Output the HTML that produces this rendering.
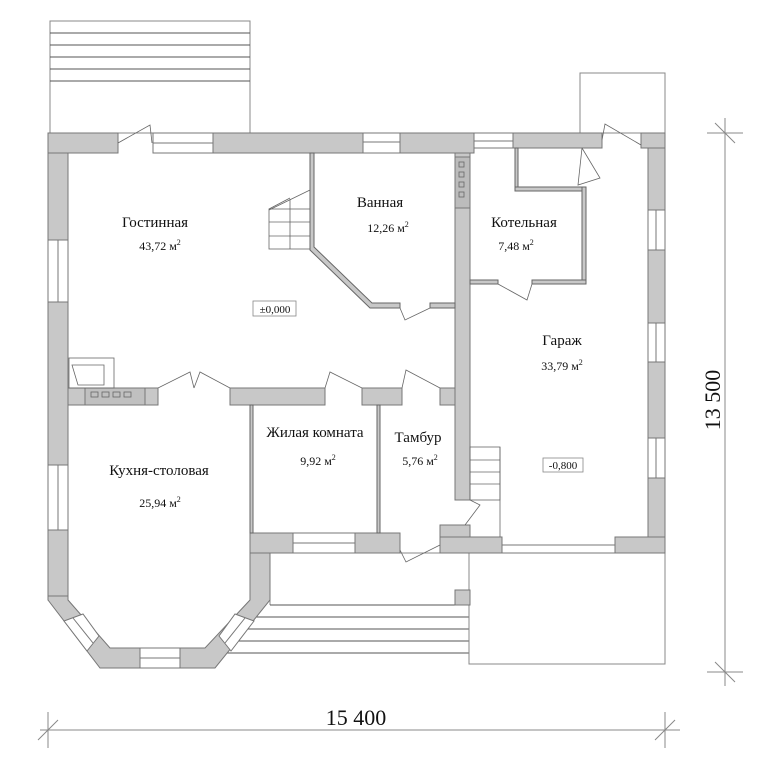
<!DOCTYPE html>
<html><head><meta charset="utf-8"><style>
html,body{margin:0;padding:0;background:#fff;}
svg{display:block}
</style></head><body>
<svg width="762" height="768" viewBox="0 0 762 768" xmlns="http://www.w3.org/2000/svg">
<g fill="none" stroke="#888" stroke-width="1">
<rect x="50" y="21" width="200" height="112"/>
<line x1="50" y1="33" x2="250" y2="33" stroke="#555"/>
<line x1="50" y1="45" x2="250" y2="45" stroke="#555"/>
<line x1="50" y1="57" x2="250" y2="57" stroke="#555"/>
<line x1="50" y1="69" x2="250" y2="69" stroke="#555"/>
<line x1="50" y1="81" x2="250" y2="81" stroke="#555"/>
<rect x="580" y="73" width="85" height="60"/>
<polyline points="270,553 270,605"/>
<line x1="270" y1="553" x2="470" y2="553"/>
<line x1="270" y1="605" x2="469" y2="605" stroke="#555"/>
<line x1="252" y1="617" x2="469" y2="617" stroke="#555"/>
<line x1="242" y1="629" x2="469" y2="629" stroke="#555"/>
<line x1="232" y1="641" x2="469" y2="641" stroke="#555"/>
<line x1="222" y1="653" x2="469" y2="653" stroke="#555"/>
<rect x="469" y="553" width="196" height="111"/>
<line x1="40" y1="730" x2="680" y2="730"/>
<line x1="48" y1="712" x2="48" y2="748"/>
<line x1="665" y1="712" x2="665" y2="748"/>
<line x1="38" y1="740" x2="58" y2="720"/>
<line x1="655" y1="740" x2="675" y2="720"/>
<line x1="725" y1="118" x2="725" y2="686"/>
<line x1="707" y1="133" x2="743" y2="133"/>
<line x1="707" y1="672" x2="743" y2="672"/>
<line x1="715" y1="123" x2="735" y2="143"/>
<line x1="715" y1="662" x2="735" y2="682"/>
</g>
<g fill="#c8c8c8" stroke="#777" stroke-width="1">
<rect x="48" y="133" width="70" height="20"/>
<rect x="213" y="133" width="150" height="20"/>
<rect x="400" y="133" width="74" height="20"/>
<rect x="513" y="133" width="89" height="15"/>
<rect x="641" y="133" width="24" height="15"/>
<rect x="648" y="148" width="17" height="62"/>
<rect x="648" y="250" width="17" height="73"/>
<rect x="648" y="362" width="17" height="76"/>
<rect x="648" y="478" width="17" height="75"/>
<rect x="48" y="153" width="20" height="87"/>
<rect x="48" y="302" width="20" height="163"/>
<rect x="48" y="530" width="20" height="70"/>
<polygon points="48,596 48,600 100,668 215,668 270,600 270,533 250,533 250,600 205,648 110,648 68,600 68,596"/>
<rect x="68" y="388" width="90" height="17"/>
<rect x="230" y="388" width="95" height="17"/>
<rect x="362" y="388" width="40" height="17"/>
<rect x="440" y="388" width="18" height="17"/>
<rect x="455" y="153" width="15" height="347"/>
<rect x="455" y="157" width="15" height="51" fill="#bcbcbc"/>
<rect x="250" y="533" width="43" height="20"/>
<rect x="355" y="533" width="45" height="20"/>
<rect x="440" y="525" width="30" height="28"/>
<rect x="440" y="537" width="62" height="16"/>
<rect x="615" y="537" width="50" height="16"/>
<rect x="455" y="590" width="15" height="15"/>
<rect x="85" y="388" width="60" height="17" fill="#c0c0c0"/>
</g>
<g fill="#fff" stroke="#777" stroke-width="1">
<polygon points="64,621 83,614 99,636 87,651"/>
<line x1="73" y1="618" x2="93" y2="643"/>
<rect x="140" y="648" width="40" height="20"/>
<line x1="140" y1="658" x2="180" y2="658"/>
<polygon points="254,621 235,614 219,636 231,651"/>
<line x1="245" y1="618" x2="225" y2="643"/>
<rect x="153" y="133" width="60" height="20"/><line x1="153" y1="143" x2="213" y2="143"/>
<rect x="363" y="133" width="37" height="20"/><line x1="363" y1="142" x2="400" y2="142"/>
<rect x="474" y="133" width="39" height="15"/><line x1="474" y1="141" x2="513" y2="141"/>
<rect x="48" y="240" width="20" height="62"/><line x1="58" y1="240" x2="58" y2="302"/>
<rect x="48" y="465" width="20" height="65"/><line x1="58" y1="465" x2="58" y2="530"/>
<rect x="648" y="210" width="17" height="40"/><line x1="656" y1="210" x2="656" y2="250"/>
<rect x="648" y="323" width="17" height="39"/><line x1="656" y1="323" x2="656" y2="362"/>
<rect x="648" y="438" width="17" height="40"/><line x1="656" y1="438" x2="656" y2="478"/>
<rect x="293" y="533" width="62" height="20"/><line x1="293" y1="543" x2="355" y2="543"/>
<rect x="502" y="545" width="113" height="8"/>
</g>
<g fill="#c8c8c8" stroke="#666" stroke-width="1">
<polygon points="310,153 314,153 314,247 372,303 400,303 400,308 370,308 310,250"/>
<rect x="430" y="303" width="25" height="5"/>
<rect x="515" y="148" width="3" height="42"/>
<rect x="515" y="187" width="70" height="4"/>
<rect x="582" y="187" width="4" height="97"/>
<rect x="470" y="280" width="28" height="4"/>
<rect x="532" y="280" width="54" height="4"/>
<rect x="250" y="405" width="3" height="128"/>
<rect x="377" y="405" width="3" height="128"/>
</g>
<g fill="none" stroke="#666" stroke-width="0.8">
<rect x="459" y="162" width="5" height="5"/><rect x="459" y="172" width="5" height="5"/><rect x="459" y="182" width="5" height="5"/><rect x="459" y="192" width="5" height="5"/>
<rect x="91" y="392" width="7" height="5"/><rect x="102" y="392" width="7" height="5"/><rect x="113" y="392" width="7" height="5"/><rect x="124" y="392" width="7" height="5"/>
<rect x="69" y="358" width="45" height="30"/>
<polygon points="72,365 104,365 104,385 78,385"/>
<polyline points="269,210 310,190"/>
<rect x="269" y="209" width="41" height="40"/>
<line x1="269" y1="222" x2="310" y2="222"/><line x1="269" y1="236" x2="310" y2="236"/>
<line x1="290" y1="199" x2="290" y2="249"/>
<line x1="269" y1="209" x2="290" y2="198"/>
<rect x="470" y="447" width="30" height="53"/>
<line x1="470" y1="460" x2="500" y2="460"/><line x1="470" y1="472" x2="500" y2="472"/><line x1="470" y1="484" x2="500" y2="484"/>
<line x1="500" y1="447" x2="500" y2="537"/>
<polyline points="118,143 150,125 152,143"/>
<polyline points="158,388 190,372 194,388"/>
<polyline points="230,388 200,372 194,388"/>
<polyline points="325,388 330,372 362,388"/>
<polyline points="402,388 406,370 440,388"/>
<polyline points="400,308 405,320 430,308"/>
<polyline points="498,284 527,300 532,284"/>
<polyline points="602,140 605,124 641,145"/>
<polyline points="582,148 578,185 600,178 582,148"/>
<polyline points="400,550 406,562 440,545"/>
<polyline points="470,500 480,505 465,525"/>
<rect x="253" y="301" width="43" height="15" stroke="#888"/>
<rect x="543" y="458" width="40" height="14" stroke="#888"/>
</g>
<g font-family="Liberation Serif, serif" fill="#111" font-size="15">
<text x="155" y="227" text-anchor="middle">Гостинная</text>
<text x="160" y="250" font-size="12" text-anchor="middle">43,72 м<tspan font-size="8" dy="-5">2</tspan></text>
<text x="380" y="207" text-anchor="middle">Ванная</text>
<text x="388" y="232" font-size="12" text-anchor="middle">12,26 м<tspan font-size="8" dy="-5">2</tspan></text>
<text x="524" y="227" text-anchor="middle">Котельная</text>
<text x="516" y="250" font-size="12" text-anchor="middle">7,48 м<tspan font-size="8" dy="-5">2</tspan></text>
<text x="562" y="345" text-anchor="middle">Гараж</text>
<text x="562" y="370" font-size="12" text-anchor="middle">33,79 м<tspan font-size="8" dy="-5">2</tspan></text>
<text x="159" y="475" text-anchor="middle">Кухня-столовая</text>
<text x="160" y="507" font-size="12" text-anchor="middle">25,94 м<tspan font-size="8" dy="-5">2</tspan></text>
<text x="315" y="437" text-anchor="middle">Жилая комната</text>
<text x="318" y="465" font-size="12" text-anchor="middle">9,92 м<tspan font-size="8" dy="-5">2</tspan></text>
<text x="418" y="442" text-anchor="middle">Тамбур</text>
<text x="420" y="465" font-size="12" text-anchor="middle">5,76 м<tspan font-size="8" dy="-5">2</tspan></text>
<text x="275" y="313" font-size="11" text-anchor="middle">±0,000</text>
<text x="563" y="469" font-size="11" text-anchor="middle">-0,800</text>
<text x="356" y="725" font-size="22" text-anchor="middle">15 400</text>
<text x="0" y="0" font-size="22" text-anchor="middle" transform="translate(720,400) rotate(-90)">13 500</text>
</g>
</svg>
</body></html>
